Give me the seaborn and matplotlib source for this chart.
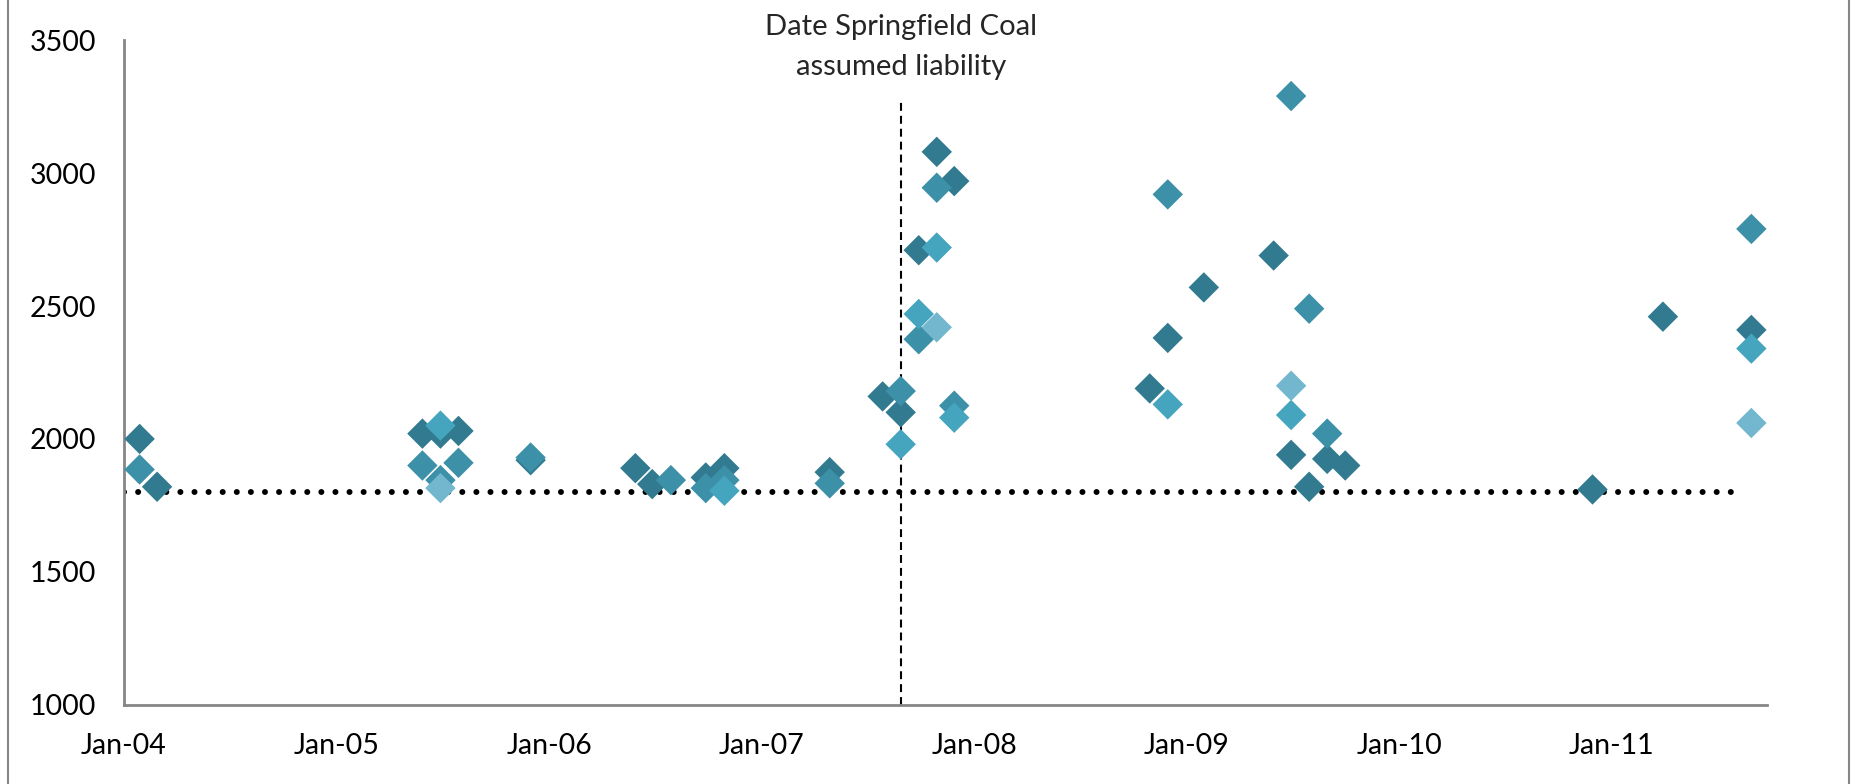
import pandas as pd
import numpy as np
import matplotlib
matplotlib.use('Agg')
import matplotlib.pyplot as plt
import matplotlib.dates as mdates
from matplotlib.lines import Line2D
import seaborn as sns

# Sample dates and values, one list per colour group
dark_dates = ['2004-01-28', '2004-02-27', '2005-05-28', '2005-06-28', '2005-07-29',
              '2005-11-30', '2006-05-29', '2006-06-27', '2006-09-27', '2006-10-29',
              '2007-04-28', '2007-07-28', '2007-08-28', '2007-09-28', '2007-10-29',
              '2007-11-28', '2008-10-29', '2008-11-29', '2009-01-30', '2009-05-30',
              '2009-06-29', '2009-07-30', '2009-08-30', '2009-09-30', '2010-11-29',
              '2011-03-30', '2011-08-29']
dark_vals = [2000, 1820, 2020, 2020, 2030,
             1920, 1890, 1830, 1855, 1890,
             1875, 2160, 2100, 2710, 3080,
             2970, 2190, 2380, 2570, 2690,
             1940, 1820, 1925, 1900, 1810,
             2460, 2410]

medium_dates = ['2004-01-28', '2005-05-28', '2005-06-28', '2005-07-29', '2005-11-30',
                '2006-07-29', '2006-09-27', '2006-10-29', '2007-04-28', '2007-08-28',
                '2007-09-28', '2007-10-29', '2007-11-28', '2008-11-29', '2009-06-29',
                '2009-07-30', '2009-08-30', '2011-08-29']
medium_vals = [1885, 1900, 1845, 1910, 1930,
               1845, 1815, 1845, 1833, 2180,
               2375, 2945, 2125, 2920, 3290,
               2490, 2020, 2790]

bright_dates = ['2005-06-28', '2006-10-29', '2007-08-28', '2007-09-28', '2007-10-29',
                '2007-11-28', '2008-11-29', '2009-06-29', '2011-08-29']
bright_vals = [2050, 1805, 1980, 2470, 2720,
               2080, 2130, 2090, 2340]

light_dates = ['2005-06-28', '2007-10-29', '2009-06-29', '2011-08-29']
light_vals = [1815, 2420, 2200, 2060]

threshold = 1800
threshold_span = ['2004-01-01', '2011-08-15']
event_date = '2007-08-28'
event_top = 3275
event_label = 'Date Springfield Coal\nassumed liability'
x_range = ['2004-01-01', '2011-09-25']
y_ticks = [1000, 1500, 2000, 2500, 3000, 3500]

groups = ['dark', 'medium', 'bright', 'light']
colors = ['#317a8f', '#3c90a8', '#45a4be', '#72b7cd']

frames = []
for g, d, v in zip(groups, [dark_dates, medium_dates, bright_dates, light_dates],
                   [dark_vals, medium_vals, bright_vals, light_vals]):
    frames.append(pd.DataFrame({'date': pd.to_datetime(d), 'value': v, 'group': g}))
df = pd.concat(frames, ignore_index=True)

sns.set_style('white')
plt.rcParams['font.family'] = ['Lato', 'DejaVu Sans']

fig = plt.figure(figsize=(18.55, 7.84), dpi=100)
ax = fig.add_axes([0.0668, 0.1011, 0.8858, 0.8476])

# reference lines
ax.plot(pd.to_datetime(threshold_span), [threshold, threshold], color='black',
        lw=4.3, linestyle=(0, (0.01, 2.35)), dash_capstyle='round', zorder=1)
ev = pd.to_datetime(event_date)
ax.plot([ev, ev], [1000, event_top], color='black', lw=1.5,
        linestyle=(0, (3.8, 2.4)), zorder=1)

sns.scatterplot(data=df, x='date', y='value', hue='group', hue_order=groups,
                palette=colors, marker='D', s=240, linewidth=0, legend=False,
                ax=ax, zorder=3)

ax.set_xlim(pd.to_datetime(x_range))
ax.set_ylim(1000, 3500)
ax.set_yticks(y_ticks)
ax.xaxis.set_major_locator(mdates.YearLocator())
ax.xaxis.set_major_formatter(mdates.DateFormatter('%b-%y'))
ax.set_xlabel('')
ax.set_ylabel('')

for s in ['top', 'right']:
    ax.spines[s].set_visible(False)
for s in ['left', 'bottom']:
    ax.spines[s].set_color('#868686')
    ax.spines[s].set_linewidth(2)
ax.tick_params(axis='both', colors='#868686', width=2, length=7, direction='out',
               labelsize=20.5, labelcolor='black')
ax.tick_params(axis='y', pad=13)
ax.tick_params(axis='x', pad=13)

# annotation over the dashed line
lines = event_label.split('\n')
ax.text(ev, 1.0195, lines[0], transform=ax.get_xaxis_transform(), ha='center',
        va='center', fontsize=21, clip_on=False)
ax.text(ev, 0.959, lines[1], transform=ax.get_xaxis_transform(), ha='center',
        va='center', fontsize=21, clip_on=False)

# chart area border (left and right edges)
fig.add_artist(Line2D([0.0045, 0.0045], [0, 1], transform=fig.transFigure,
                      color='#868686', lw=1.5))
fig.add_artist(Line2D([0.9968, 0.9968], [0, 1], transform=fig.transFigure,
                      color='#868686', lw=1.5))

fig.savefig('out.png', dpi=100)
